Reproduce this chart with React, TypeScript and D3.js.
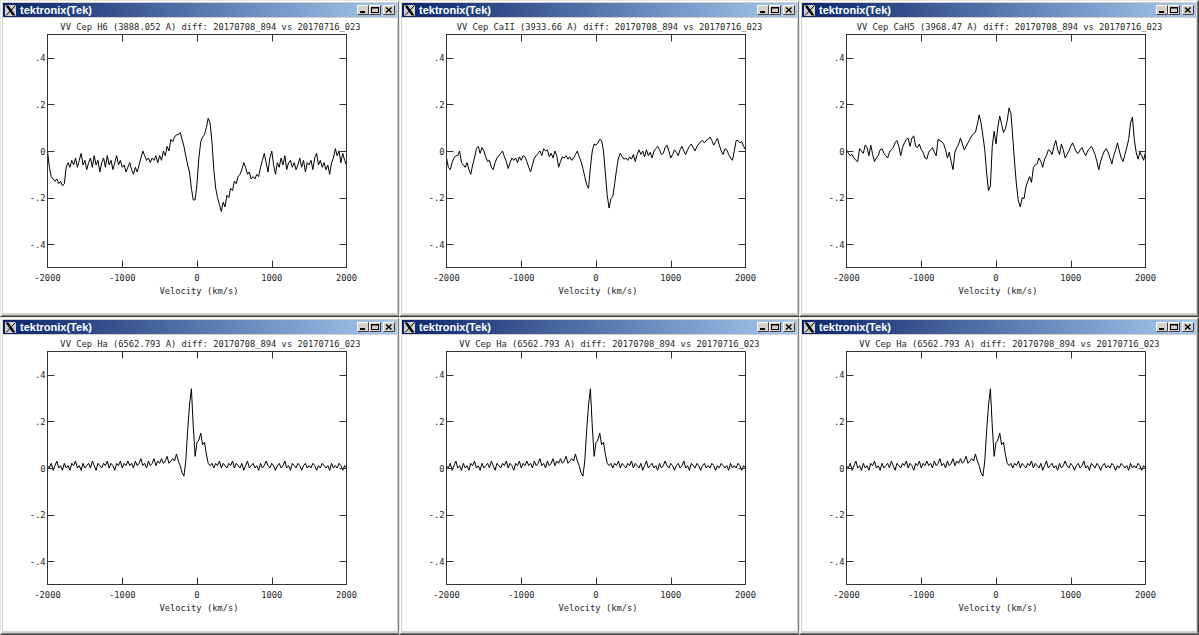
import React from "react";
import * as d3 from "d3";

// ---------- data ----------
const velocity = [
  -2000, -1975, -1950, -1925, -1900, -1875, -1850, -1825, -1800, -1775,
  -1750, -1725, -1700, -1675, -1650, -1625, -1600, -1575, -1550, -1525,
  -1500, -1475, -1450, -1425, -1400, -1375, -1350, -1325, -1300, -1275,
  -1250, -1225, -1200, -1175, -1150, -1125, -1100, -1075, -1050, -1025,
  -1000, -975, -950, -925, -900, -875, -850, -825, -800, -775,
  -750, -725, -700, -675, -650, -625, -600, -575, -550, -525,
  -500, -475, -450, -425, -400, -375, -350, -325, -300, -275,
  -250, -225, -200, -175, -150, -125, -100, -75, -50, -25,
  0, 25, 50, 75, 100, 125, 150, 175, 200, 225,
  250, 275, 300, 325, 350, 375, 400, 425, 450, 475,
  500, 525, 550, 575, 600, 625, 650, 675, 700, 725,
  750, 775, 800, 825, 850, 875, 900, 925, 950, 975,
  1000, 1025, 1050, 1075, 1100, 1125, 1150, 1175, 1200, 1225,
  1250, 1275, 1300, 1325, 1350, 1375, 1400, 1425, 1450, 1475,
  1500, 1525, 1550, 1575, 1600, 1625, 1650, 1675, 1700, 1725,
  1750, 1775, 1800, 1825, 1850, 1875, 1900, 1925, 1950, 1975,
  2000,
];

const diffH6 = [
  0.0, -0.07, -0.11, -0.12, -0.13, -0.12, -0.14, -0.13, -0.15, -0.14,
  -0.07, -0.05, -0.07, -0.04, -0.06, -0.03, -0.07, -0.04, -0.01, -0.06,
  -0.04, -0.08, -0.05, -0.03, -0.07, -0.02, -0.06, -0.04, -0.09, -0.05,
  -0.03, -0.07, -0.02, -0.06, -0.04, -0.08, -0.05, -0.02, -0.06, -0.04,
  -0.07, -0.06, -0.09, -0.07, -0.05, -0.08, -0.1, -0.07, -0.09, -0.06,
  -0.03, 0.0, -0.02, -0.04, -0.03, -0.05, -0.03, -0.04, -0.02, -0.05,
  -0.02, -0.04, 0.0, -0.02, 0.02, 0.0, 0.05, 0.04, 0.06, 0.07,
  0.07, 0.08, 0.05, 0.02, -0.02, -0.06, -0.09, -0.16, -0.21, -0.21,
  -0.14, -0.03, 0.04, 0.06, 0.07, 0.1, 0.14, 0.12, 0.04, -0.08,
  -0.16, -0.2, -0.23, -0.26, -0.22, -0.24, -0.19, -0.2, -0.16, -0.17,
  -0.13, -0.14, -0.11, -0.1, -0.08, -0.05, -0.07, -0.1, -0.09, -0.12,
  -0.11, -0.12, -0.1, -0.11, -0.07, -0.04, -0.01, -0.05, -0.09, -0.03,
  0.0, -0.06, -0.1, -0.05, -0.07, -0.03, -0.06, -0.02, -0.08, -0.05,
  -0.04, -0.07, -0.05, -0.08, -0.06, -0.03, -0.07, -0.04, -0.09, -0.05,
  -0.06, -0.04, -0.08, -0.03, -0.01, -0.06, -0.04, -0.07, -0.05, -0.08,
  -0.06, -0.1, -0.05, -0.03, 0.01, -0.02, 0.0, -0.05, -0.01, -0.04,
  -0.06,
];

const diffCaII = [
  -0.03, -0.07, -0.08, -0.05, -0.03, -0.02, -0.02, 0.0, -0.05, -0.06,
  -0.07, -0.05, -0.08, -0.1, -0.06, -0.03, 0.01, 0.02, -0.01, 0.015,
  0.0, -0.025, -0.045, -0.04, -0.07, -0.08, -0.05, -0.03, -0.02, -0.01,
  0.0, -0.025, -0.045, -0.075, -0.05, -0.03, -0.04, -0.03, -0.05, -0.025,
  -0.04, -0.02, -0.025, -0.045, -0.07, -0.09, -0.06, -0.03, -0.02, -0.01,
  0.0, -0.02, 0.01, 0.0, 0.005, -0.025, -0.01, -0.03, 0.0, -0.02,
  -0.07, -0.045, -0.025, -0.03, -0.02, -0.035, -0.025, -0.04, -0.03, -0.015,
  0.0, -0.025, -0.045, -0.075, -0.11, -0.145, -0.16, -0.07, 0.0, 0.03,
  0.025, 0.035, 0.05, 0.045, 0.0, -0.095, -0.19, -0.245, -0.205, -0.195,
  -0.14, -0.08, -0.03, -0.01, -0.025, -0.035, -0.03, -0.04, -0.025, -0.035,
  -0.015, -0.045, -0.015, 0.005, -0.015, 0.0, -0.025, 0.005, -0.02, -0.005,
  -0.03, 0.0, 0.01, 0.02, 0.005, -0.015, -0.01, 0.015, 0.025, 0.0,
  -0.03, -0.015, 0.005, -0.005, -0.02, 0.005, 0.02, 0.0, -0.015, 0.005,
  0.02, 0.03, 0.015, 0.0, 0.02, 0.03, 0.04, 0.045, 0.035, 0.045,
  0.05, 0.06, 0.045, 0.025, 0.04, 0.055, 0.025, 0.0, -0.015, 0.01,
  0.005, -0.015, -0.03, -0.04, 0.0, 0.045, 0.045, 0.035, 0.04, 0.02,
  0.005,
];

const diffCaH5 = [
  0.005, -0.01, -0.02, -0.015, -0.03, -0.04, -0.045, 0.01, 0.0, -0.01,
  0.025, 0.015, -0.02, 0.025, -0.015, -0.045, -0.03, -0.02, 0.005, 0.01,
  -0.01, -0.02, -0.03, -0.005, 0.005, 0.015, 0.035, 0.045, 0.02, -0.02,
  0.015, 0.035, 0.05, 0.055, 0.02, 0.055, 0.065, 0.02, 0.015, 0.03,
  0.005, -0.005, -0.03, -0.035, -0.005, 0.005, 0.015, -0.005, -0.02, 0.05,
  0.045, 0.04, 0.03, 0.005, -0.03, -0.005, -0.045, -0.08, -0.005, 0.015,
  0.03, 0.055, 0.03, 0.005, 0.02, 0.035, 0.05, 0.065, 0.075, 0.08,
  0.115, 0.155, 0.12, 0.065, 0.005, -0.095, -0.17, -0.15, 0.02, 0.085,
  0.03, 0.105, 0.15, 0.115, 0.08, 0.095, 0.13, 0.185, 0.16, 0.055,
  -0.055, -0.15, -0.215, -0.24, -0.2, -0.205, -0.155, -0.13, -0.11, -0.135,
  -0.07, -0.06, -0.055, -0.03, -0.045, -0.07, -0.035, -0.02, 0.005, 0.0,
  -0.015, 0.02, 0.045, 0.005, -0.015, 0.03, 0.005, -0.03, -0.015, 0.0,
  0.02, 0.035, 0.015, -0.005, -0.01, 0.005, 0.015, -0.005, -0.02, 0.0,
  0.01, 0.02, 0.005, -0.015, -0.045, -0.08, -0.045, -0.02, 0.0, 0.01,
  -0.005, -0.03, -0.055, -0.02, 0.005, 0.035, 0.0, -0.03, -0.045, -0.015,
  0.015, 0.05, 0.12, 0.145, 0.05, -0.005, -0.035, -0.005, -0.02, -0.04,
  -0.005,
];

const diffHa = [
  0.01, 0.0, 0.02, -0.01, 0.01, 0.03, 0.0, 0.01, -0.01, 0.02,
  0.0, 0.01, -0.01, 0.02, 0.01, 0.03, 0.0, 0.01, -0.01, 0.02,
  0.0, 0.01, 0.02, 0.0, 0.03, 0.01, -0.01, 0.02, 0.01, 0.0,
  0.02, 0.01, 0.03, 0.0, 0.02, 0.01, -0.01, 0.02, 0.01, 0.03,
  0.0, 0.02, 0.01, 0.03, 0.01, 0.02, 0.0, 0.03, 0.01, 0.02,
  0.04, 0.01, 0.02, 0.0, 0.03, 0.01, 0.02, 0.04, 0.01, 0.03,
  0.02, 0.04, 0.02, 0.03, 0.05, 0.02, 0.03, 0.04, 0.03, 0.06,
  0.03, 0.01, -0.02, -0.035, 0.03, 0.16, 0.27, 0.34, 0.18, 0.05,
  0.11, 0.12, 0.15, 0.1, 0.11, 0.06, 0.02, 0.01, 0.02, 0.0,
  0.02, 0.01, 0.03, 0.0, 0.02, 0.01, 0.0, 0.02, 0.01, 0.03,
  0.0, 0.02, 0.01, 0.0, 0.02, -0.01, 0.01, 0.03, 0.0, 0.01,
  0.02, 0.0, 0.01, -0.01, 0.02, 0.0, 0.01, 0.03, 0.01, 0.0,
  0.02, 0.01, -0.01, 0.01, 0.02, 0.0, 0.01, 0.03, 0.0, 0.01,
  -0.01, 0.02, 0.01, 0.0, 0.02, 0.01, -0.01, 0.01, 0.02, 0.0,
  0.01, 0.0, 0.02, 0.01, -0.01, 0.01, 0.0, 0.02, 0.01, 0.0,
  0.01, -0.01, 0.02, 0.0, 0.01, 0.0, 0.02, 0.01, -0.01, 0.01,
  0.0,
];

const panelTitles = [
  "VV Cep H6 (3888.052 A) diff: 20170708_894 vs 20170716_023",
  "VV Cep CaII (3933.66 A) diff: 20170708_894 vs 20170716_023",
  "VV Cep CaH5 (3968.47 A) diff: 20170708_894 vs 20170716_023",
  "VV Cep Ha (6562.793 A) diff: 20170708_894 vs 20170716_023",
  "VV Cep Ha (6562.793 A) diff: 20170708_894 vs 20170716_023",
  "VV Cep Ha (6562.793 A) diff: 20170708_894 vs 20170716_023",
];
const panelSeries = [diffH6, diffCaII, diffCaH5, diffHa, diffHa, diffHa];

const windowTitle = "tektronix(Tek)";
const xAxisLabel = "Velocity (km/s)";
const xTicks = [-2000, -1000, 0, 1000, 2000];
const xTickLabels = ["-2000", "-1000", "0", "1000", "2000"];
const yTicks = [0.4, 0.2, 0, -0.2, -0.4];
const yTickLabels = [".4", ".2", "0", "-.2", "-.4"];

// ---------- layout ----------
const WIDTH = 1199;
const HEIGHT = 635;
const COL_X = [0, 399, 799];
const ROW_Y = [0, 317];
const PLOT = { left: 47.5, right: 346.5, top: 34.5, bottom: 267.5 };
const MONO = "'DejaVu Sans Mono', monospace";
const TEXT_COLOR = "#262626";

function Button({ x, kind }: { x: number; kind: string }) {
  const y = 5;
  const w = 12;
  const h = 10;
  return (
    <g>
      <rect x={x} y={y} width={w} height={h} fill="#d4d0c8" />
      <path d={`M${x + 0.5},${y + h - 0.5}V${y + 0.5}H${x + w - 0.5}`} stroke="#ffffff" fill="none" />
      <path d={`M${x + 0.5},${y + h - 0.5}H${x + w - 0.5}V${y + 0.5}`} stroke="#404040" fill="none" />
      {kind === "min" && <rect x={x + 3} y={y + 6} width={5} height={2} fill="#000" />}
      {kind === "max" && (
        <g>
          <rect x={x + 2.5} y={y + 2.5} width={7} height={5} fill="none" stroke="#000" />
          <rect x={x + 2} y={y + 2} width={8} height={1.5} fill="#000" />
        </g>
      )}
      {kind === "close" && (
        <path
          d={`M${x + 3},${y + 2.5}L${x + 8.5},${y + 7.5}M${x + 8.5},${y + 2.5}L${x + 3},${y + 7.5}`}
          stroke="#000"
          strokeWidth={1.4}
        />
      )}
    </g>
  );
}

function Panel({ idx, x0, y0, w, h }: { idx: number; x0: number; y0: number; w: number; h: number }) {
  const xScale = d3.scaleLinear().domain([-2000, 2000]).range([PLOT.left, PLOT.right]);
  const yScale = d3.scaleLinear().domain([-0.5, 0.5]).range([PLOT.bottom, PLOT.top]);
  const series = panelSeries[idx];
  const pts: [number, number][] = velocity.map((v, i) => [v, series[i]]).filter((d) => d[1] !== undefined) as [number, number][];
  const line = d3
    .line<[number, number]>()
    .x((d) => xScale(d[0]))
    .y((d) => yScale(d[1]));
  const clipId = `clip${idx}`;
  const tickLen = 7;
  return (
    <g transform={`translate(${x0},${y0})`}>
      {/* window frame */}
      <rect x={0} y={0} width={w} height={h} fill="#d4d0c8" />
      <path d={`M0.5,${h - 0.5}V0.5H${w - 0.5}`} stroke="#e8e6e0" fill="none" />
      <path d={`M1.5,${h - 1.5}V1.5H${w - 1.5}`} stroke="#ffffff" fill="none" />
      <path d={`M0.5,${h - 0.5}H${w - 0.5}V0.5`} stroke="#404040" fill="none" />
      <path d={`M1.5,${h - 1.5}H${w - 1.5}V1.5`} stroke="#808080" fill="none" />
      {/* title bar */}
      <rect x={3} y={3} width={w - 6} height={14} fill="url(#titleGrad)" />
      <rect x={5} y={5} width={11} height={11} fill="#cfcfcf" />
      <path d="M5.5,5.5 L8.5,5.5 L15.5,15.5 L12.5,15.5 Z" fill="#000" />
      <path d="M15.5,5.5 L6,15.5" stroke="#000" strokeWidth={1} />
      <text
        x={20}
        y={14}
        fill="#ffffff"
        fontFamily="'Liberation Sans', Arial, sans-serif"
        fontWeight="bold"
        fontSize={11}
      >
        {windowTitle}
      </text>
      <Button x={w - 43} kind="min" />
      <Button x={w - 31} kind="max" />
      <Button x={w - 17} kind="close" />
      {/* client area */}
      <rect x={3} y={18} width={w - 6} height={h - 22} fill="#ffffff" />
      {/* plot title */}
      <text x={210.5} y={29.5} textAnchor="middle" fontFamily={MONO} fontSize={8.75} fill={TEXT_COLOR}>
        {panelTitles[idx]}
      </text>
      <defs>
        <clipPath id={clipId}>
          <rect x={PLOT.left} y={PLOT.top} width={PLOT.right - PLOT.left} height={PLOT.bottom - PLOT.top} />
        </clipPath>
      </defs>
      {/* data */}
      <path d={line(pts) || ""} fill="none" stroke="#000" strokeWidth={1} clipPath={`url(#${clipId})`} />
      {/* frame */}
      <rect
        x={PLOT.left}
        y={PLOT.top}
        width={PLOT.right - PLOT.left}
        height={PLOT.bottom - PLOT.top}
        fill="none"
        stroke="#333"
        strokeWidth={1}
      />
      {/* x ticks */}
      {xTicks.map((t, i) => {
        const x = Math.round(xScale(t)) + 0.5;
        const inner = i > 0 && i < xTicks.length - 1;
        return (
          <g key={`xt${i}`}>
            {inner && (
              <>
                <line x1={x} x2={x} y1={PLOT.bottom} y2={PLOT.bottom - tickLen} stroke="#333" />
                <line x1={x} x2={x} y1={PLOT.top} y2={PLOT.top + tickLen} stroke="#333" />
              </>
            )}
            <text x={xScale(t)} y={281} textAnchor="middle" fontFamily={MONO} fontSize={8.75} fill={TEXT_COLOR}>
              {xTickLabels[i]}
            </text>
          </g>
        );
      })}
      {/* y ticks */}
      {yTicks.map((t, i) => {
        const y = Math.round(yScale(t)) + 0.5;
        return (
          <g key={`yt${i}`}>
            <line x1={PLOT.left} x2={PLOT.left + tickLen} y1={y} y2={y} stroke="#333" />
            <line x1={PLOT.right} x2={PLOT.right - tickLen} y1={y} y2={y} stroke="#333" />
            <text x={45.5} y={yScale(t) + 3.5} textAnchor="end" fontFamily={MONO} fontSize={8.75} fill={TEXT_COLOR}>
              {yTickLabels[i]}
            </text>
          </g>
        );
      })}
      <text x={199} y={293.5} textAnchor="middle" fontFamily={MONO} fontSize={8.75} fill={TEXT_COLOR}>
        {xAxisLabel}
      </text>
    </g>
  );
}

export default function App() {
  const panels = [];
  for (let r = 0; r < 2; r++) {
    for (let c = 0; c < 3; c++) {
      const idx = r * 3 + c;
      const x0 = COL_X[c];
      const y0 = ROW_Y[r];
      const w = c < 2 ? COL_X[c + 1] - x0 + 1 : WIDTH - x0;
      const h = r < 1 ? ROW_Y[r + 1] - y0 : HEIGHT - y0;
      panels.push(<Panel key={idx} idx={idx} x0={x0} y0={y0} w={w} h={h} />);
    }
  }
  return (
    <svg
      width={WIDTH}
      height={HEIGHT}
      style={{ position: "absolute", left: 0, top: 0, display: "block" }}
      xmlns="http://www.w3.org/2000/svg"
    >
      <defs>
        <linearGradient id="titleGrad" x1="0" y1="0" x2="1" y2="0">
          <stop offset="0" stopColor="#0a246a" />
          <stop offset="1" stopColor="#a6caf0" />
        </linearGradient>
      </defs>
      <rect x={0} y={0} width={WIDTH} height={HEIGHT} fill="#d4d0c8" />
      {panels}
    </svg>
  );
}
